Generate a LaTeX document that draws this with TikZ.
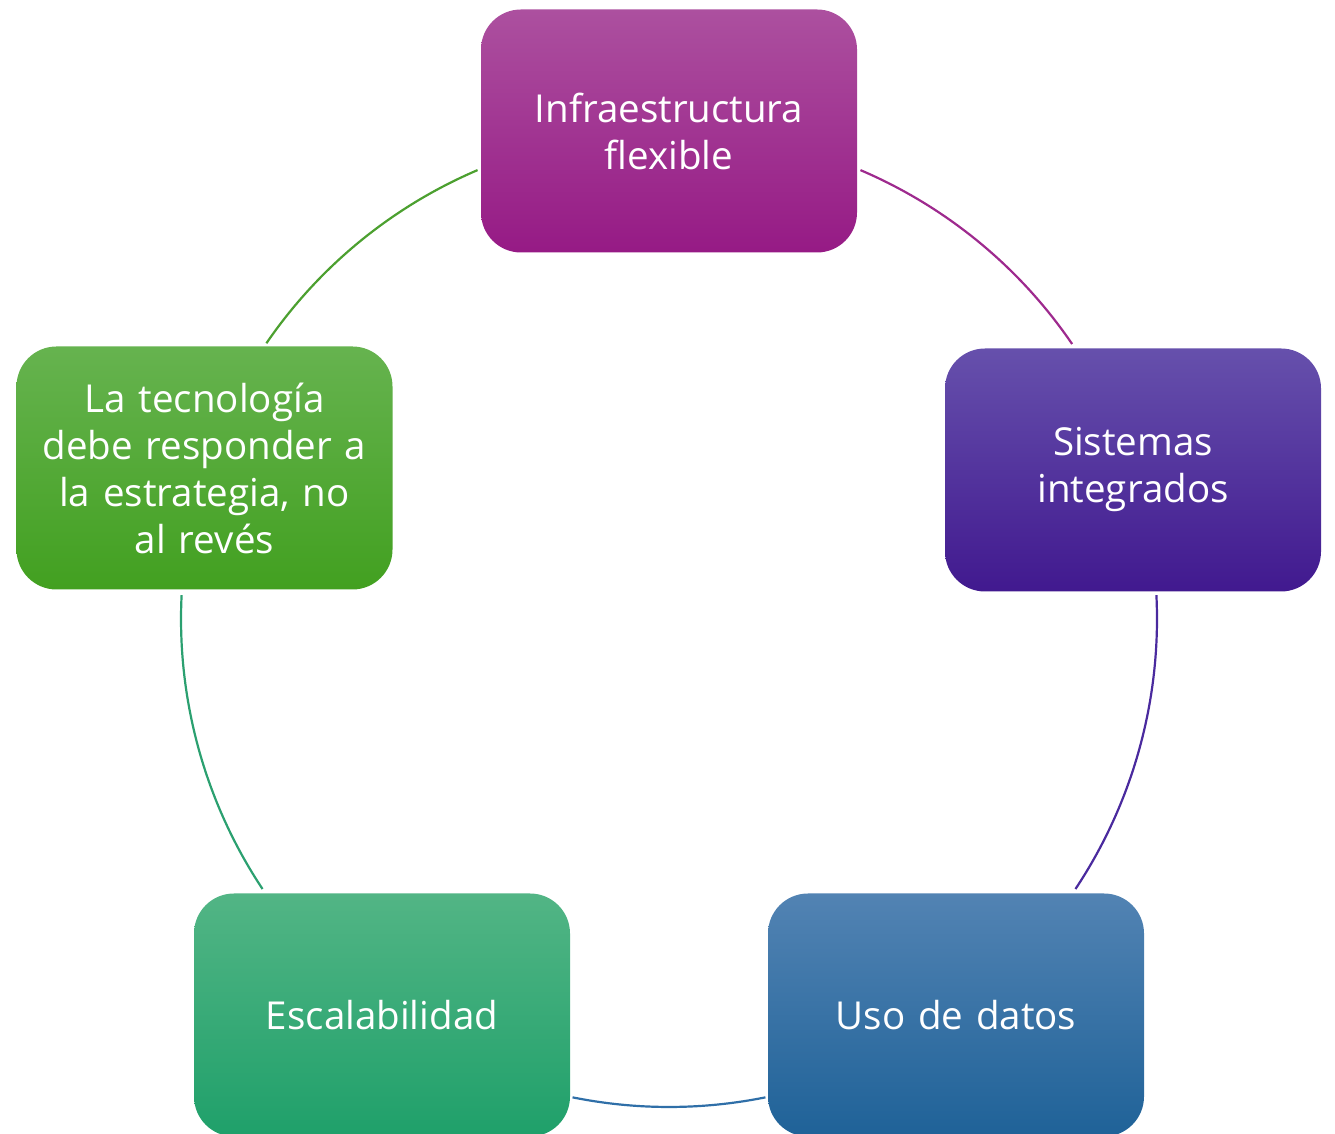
\documentclass[tikz,border=0pt]{standalone}
\usepackage{fontspec}
\setmainfont{Open Sans}
\usetikzlibrary{calc}
\begin{document}
\begin{tikzpicture}[x=1pt,y=1pt,
  cbox/.style={rounded corners=40pt,minimum width=376pt,minimum height=243pt,
    text width=350pt,align=center,text=white,inner sep=0pt,
    font=\fontsize{38.5}{47}\selectfont},
  link/.style={line width=2.2pt}]
\definecolor{magT}{HTML}{AC509F}\definecolor{magM}{HTML}{A5238F}\definecolor{magB}{HTML}{961A85}
\definecolor{purT}{HTML}{6650AC}\definecolor{purM}{HTML}{4822A0}\definecolor{purB}{HTML}{41198F}
\definecolor{bluT}{HTML}{5283B3}\definecolor{bluM}{HTML}{2670A8}\definecolor{bluB}{HTML}{1F6298}
\definecolor{tealT}{HTML}{52B585}\definecolor{tealM}{HTML}{26A872}\definecolor{tealB}{HTML}{1FA06A}
\definecolor{grnT}{HTML}{66B34F}\definecolor{grnM}{HTML}{4BA62C}\definecolor{grnB}{HTML}{42A020}
\definecolor{arcA}{HTML}{9E2A8E}\definecolor{arcB}{HTML}{4A2A9E}\definecolor{arcC}{HTML}{2F6FA8}
\definecolor{arcD}{HTML}{2BA070}\definecolor{arcE}{HTML}{4CA030}
\useasboundingbox (0,0) rectangle (1335,1134);
\coordinate (c) at (669,515);
\node[cbox,top color=magT,middle color=magM,bottom color=magB] (n1) at (669,1003) {Infraestructura\\flexible};
\node[cbox,top color=purT,middle color=purM,bottom color=purB] (n2) at (1133,664) {Sistemas\\integrados};
\node[cbox,top color=bluT,middle color=bluM,bottom color=bluB] (n3) at (956,119) {Uso de datos};
\node[cbox,top color=tealT,middle color=tealM,bottom color=tealB] (n4) at (382,119) {Escalabilidad};
\node[cbox,top color=grnT,middle color=grnM,bottom color=grnB] (n5) at (204.5,666) {La tecnología\\debe responder a\\la estrategia, no\\al revés};
\draw[link,arcA] ($(c)+(66.9:488)$) arc[start angle=66.9,end angle=34.3,radius=488];
\draw[link,arcB] ($(c)+(2.8:488)$) arc[start angle=2.8,end angle=-33.6,radius=488];
\draw[link,arcC] ($(c)+(-78.6:488)$) arc[start angle=-78.6,end angle=-101.4,radius=488];
\draw[link,arcD] ($(c)+(-146.4:488)$) arc[start angle=-146.4,end angle=-182.8,radius=488];
\draw[link,arcE] ($(c)+(145.6:488)$) arc[start angle=145.6,end angle=113.1,radius=488];
\end{tikzpicture}
\end{document}
